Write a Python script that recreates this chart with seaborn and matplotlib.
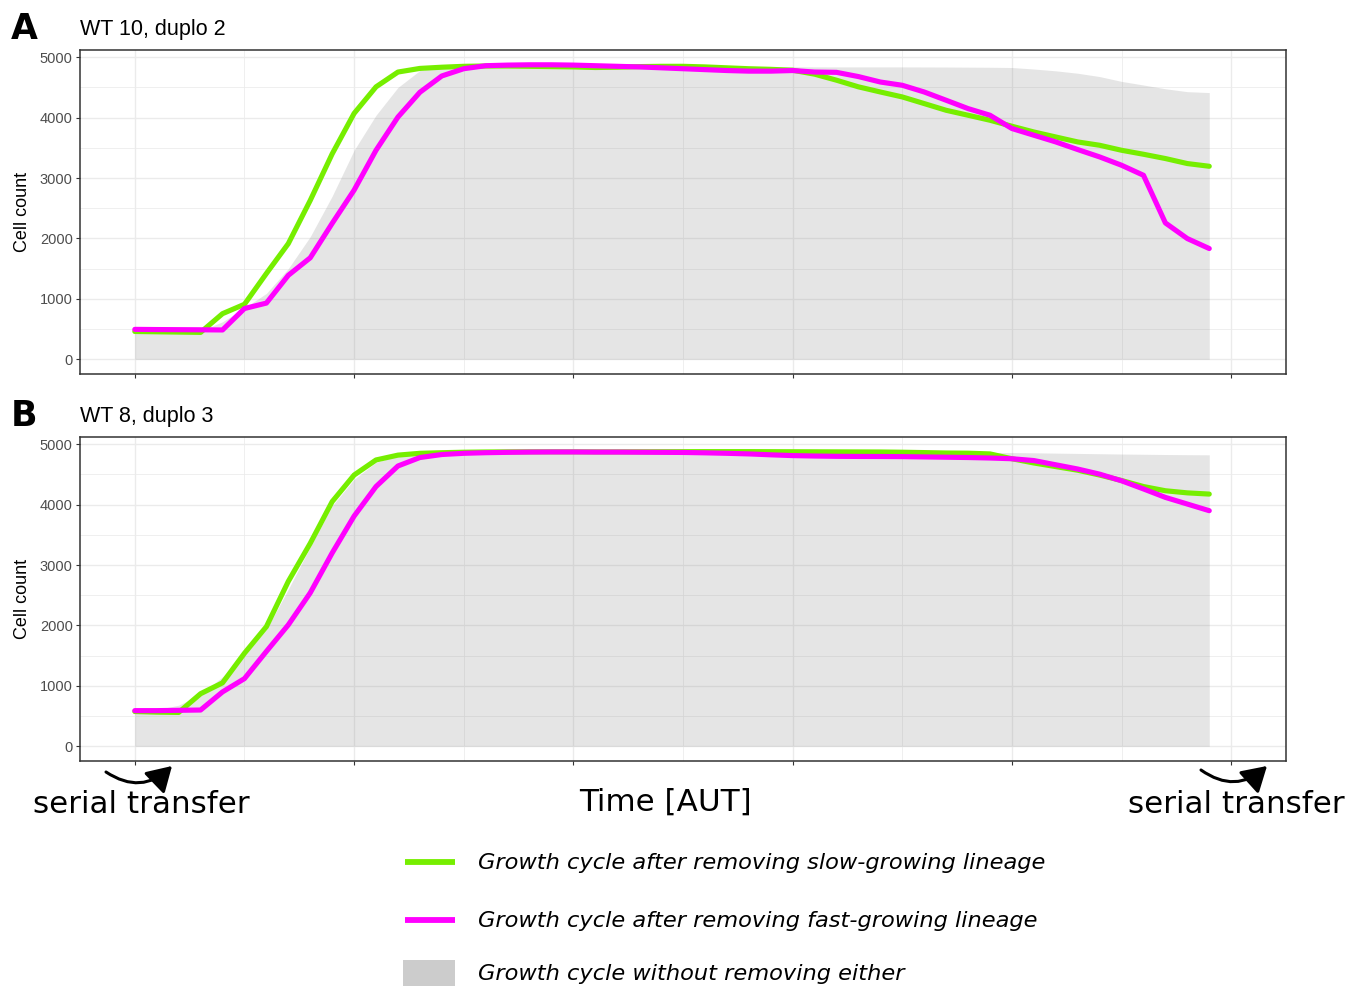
import numpy as np
import pandas as pd
import matplotlib
matplotlib.use("Agg")
import matplotlib.pyplot as plt
import seaborn as sns
from matplotlib.lines import Line2D
from matplotlib.patches import Rectangle, FancyArrowPatch

# ---- data -------------------------------------------------------------
time = np.arange(50)

series_names = [
    "Growth cycle after removing slow-growing lineage",
    "Growth cycle after removing fast-growing lineage",
]
baseline_name = "Growth cycle without removing either"

panel_letters = ["A", "B"]
panel_titles = ["WT 10, duplo 2", "WT 8, duplo 3"]

slow_removed_a = [460, 455, 450, 445, 755, 910, 1420, 1915, 2630, 3400,
                  4070, 4510, 4755, 4815, 4835, 4850, 4855, 4855, 4850, 4845,
                  4840, 4830, 4835, 4845, 4850, 4850, 4840, 4825, 4810, 4800,
                  4785, 4720, 4620, 4510, 4425, 4343, 4233, 4122, 4040, 3957,
                  3858, 3763, 3680, 3598, 3543, 3460, 3394, 3323, 3240, 3195]
fast_removed_a = [495, 492, 490, 488, 485, 840, 930, 1390, 1680, 2250,
                  2800, 3460, 4010, 4420, 4690, 4810, 4860, 4870, 4875, 4875,
                  4870, 4860, 4850, 4840, 4825, 4810, 4795, 4780, 4770, 4770,
                  4780, 4755, 4750, 4680, 4590, 4536, 4425, 4288, 4150, 4040,
                  3820, 3709, 3598, 3472, 3350, 3212, 3046, 2257, 1998, 1833]
untouched_a = [470, 468, 465, 470, 620, 850, 1090, 1500, 2030, 2700,
               3460, 4040, 4500, 4780, 4840, 4845, 4848, 4850, 4850, 4850,
               4848, 4846, 4845, 4845, 4845, 4845, 4845, 4844, 4843, 4842,
               4842, 4841, 4840, 4840, 4840, 4840, 4839, 4838, 4836, 4834,
               4830, 4805, 4775, 4735, 4680, 4600, 4540, 4478, 4430, 4415]

slow_removed_b = [575, 565, 560, 870, 1050, 1540, 1980, 2730, 3360, 4050,
                  4490, 4740, 4820, 4850, 4860, 4868, 4872, 4874, 4875, 4875,
                  4875, 4874, 4874, 4875, 4876, 4877, 4878, 4878, 4878, 4877,
                  4876, 4875, 4874, 4873, 4872, 4868, 4862, 4855, 4852, 4840,
                  4760, 4690, 4630, 4570, 4490, 4400, 4300, 4230, 4195, 4175]
fast_removed_b = [590, 590, 595, 600, 900, 1120, 1570, 2010, 2540, 3200,
                  3810, 4300, 4640, 4780, 4830, 4850, 4860, 4866, 4870, 4872,
                  4872, 4870, 4870, 4868, 4866, 4864, 4858, 4850, 4840, 4825,
                  4812, 4805, 4800, 4798, 4797, 4795, 4790, 4785, 4780, 4772,
                  4760, 4730, 4660, 4590, 4505, 4395, 4260, 4120, 4010, 3900]
untouched_b = [590, 605, 680, 860, 1150, 1500, 1930, 2600, 3300, 3980,
               4420, 4700, 4810, 4850, 4862, 4866, 4866, 4866, 4866, 4866,
               4866, 4866, 4866, 4866, 4866, 4866, 4866, 4866, 4866, 4866,
               4866, 4866, 4866, 4866, 4866, 4866, 4866, 4865, 4864, 4863,
               4862, 4858, 4853, 4848, 4843, 4838, 4834, 4830, 4827, 4825]

# ---- style ------------------------------------------------------------
sns.set_style("white")
plt.rcParams["font.family"] = ["Liberation Sans", "DejaVu Sans"]
plt.rcParams["text.color"] = "black"
plt.rcParams["axes.labelcolor"] = "black"

GREEN = "#76EE00"
MAGENTA = "#FF00FF"
palette = {series_names[0]: GREEN, series_names[1]: MAGENTA}

W, H = 1348, 986
fig = plt.figure(figsize=(W / 100, H / 100), dpi=100)


def fx(px):
    return px / W


def fy(py):
    return 1 - py / H


panels = [
    (panel_letters[0], panel_titles[0], slow_removed_a, fast_removed_a, untouched_a, 50, 374),
    (panel_letters[1], panel_titles[1], slow_removed_b, fast_removed_b, untouched_b, 437, 761),
]

for letter, title, slow, fast, base, top, bottom in panels:
    ax = fig.add_axes([fx(80), fy(bottom), (1286 - 80) / W, (bottom - top) / H])
    ax.set_axisbelow(True)

    # reference growth cycle as a translucent area
    ax.fill_between(time, 0, base, color="#7F7F7F", alpha=0.2, lw=0, zorder=1)

    df = pd.DataFrame({
        "time": np.concatenate([time, time]),
        "count": np.concatenate([slow, fast]),
        "series": [series_names[0]] * len(time) + [series_names[1]] * len(time),
    })
    sns.lineplot(data=df, x="time", y="count", hue="series",
                 hue_order=series_names, palette=palette, estimator=None,
                 sort=False, lw=3.7, legend=False, ax=ax, zorder=3)

    ax.set_xlim(-2.5, 52.5)
    ax.set_ylim(-244, 5120)
    ax.set_xticks(range(0, 51, 10))
    ax.set_xticks(range(5, 50, 10), minor=True)
    ax.set_xticklabels([])
    ax.set_yticks(range(0, 5001, 1000))
    ax.set_yticks(range(500, 5000, 1000), minor=True)
    ax.grid(which="major", color="#EBEBEB", lw=1.0)
    ax.grid(which="minor", color="#EBEBEB", lw=0.55)
    ax.tick_params(axis="both", which="major", length=3.2, width=0.8,
                   color="#333333", labelcolor="#4D4D4D", labelsize=10.5, pad=2,
                   bottom=True, left=True, top=False, right=False)
    ax.tick_params(axis="both", which="minor", length=0)
    for sp in ax.spines.values():
        sp.set_visible(True)
        sp.set_color("#333333")
        sp.set_linewidth(1.1)

    ax.set_xlabel("")
    ax.set_ylabel("Cell count", fontsize=13, color="black", va="center")
    ax.yaxis.set_label_coords(-0.0475, 0.5)

    fig.text(fx(80), fy(top - 15), title, fontsize=15.5, ha="left",
             va="baseline", color="black")
    fig.text(fx(11), fy(top - 11), letter, fontsize=25, fontweight="heavy",
             family="DejaVu Sans", ha="left", va="baseline", color="black")

# ---- bottom annotations -----------------------------------------------
bottom_font = dict(family="DejaVu Sans", fontsize=22.3, ha="center",
                   va="baseline", color="black")
fig.text(fx(141), fy(813), "serial transfer", **bottom_font)
fig.text(fx(1236), fy(813), "serial transfer", **bottom_font)
fig.text(fx(665), fy(811), "Time [AUT]", **bottom_font)

for (x0, y0), (x1, y1) in [((106, 772), (172, 766)), ((1201, 770), (1267, 766))]:
    arrow = FancyArrowPatch((fx(x0), fy(y0)), (fx(x1), fy(y1)),
                            transform=fig.transFigure,
                            connectionstyle="arc3,rad=0.4",
                            arrowstyle="-|>,head_length=15,head_width=9",
                            color="black", lw=2.2, shrinkA=0, shrinkB=0,
                            mutation_scale=1)
    fig.add_artist(arrow)

# ---- legend -----------------------------------------------------------
legend_font = dict(family="DejaVu Sans", style="italic", fontsize=16.2,
                   ha="left", va="baseline", color="black")
for name, colour, y in [(series_names[0], GREEN, 862), (series_names[1], MAGENTA, 920)]:
    fig.add_artist(Line2D([fx(405), fx(455)], [fy(y), fy(y)], color=colour,
                          lw=4.2, transform=fig.transFigure, solid_capstyle="butt"))
    fig.text(fx(478), fy(y + 7), name, **legend_font)

fig.add_artist(Rectangle((fx(403), fy(986)), (455 - 403) / W, 26 / H,
                         transform=fig.transFigure, color="#CCCCCC", lw=0))
fig.text(fx(478), fy(980), baseline_name, **legend_font)

fig.savefig("out.png", dpi=100)
